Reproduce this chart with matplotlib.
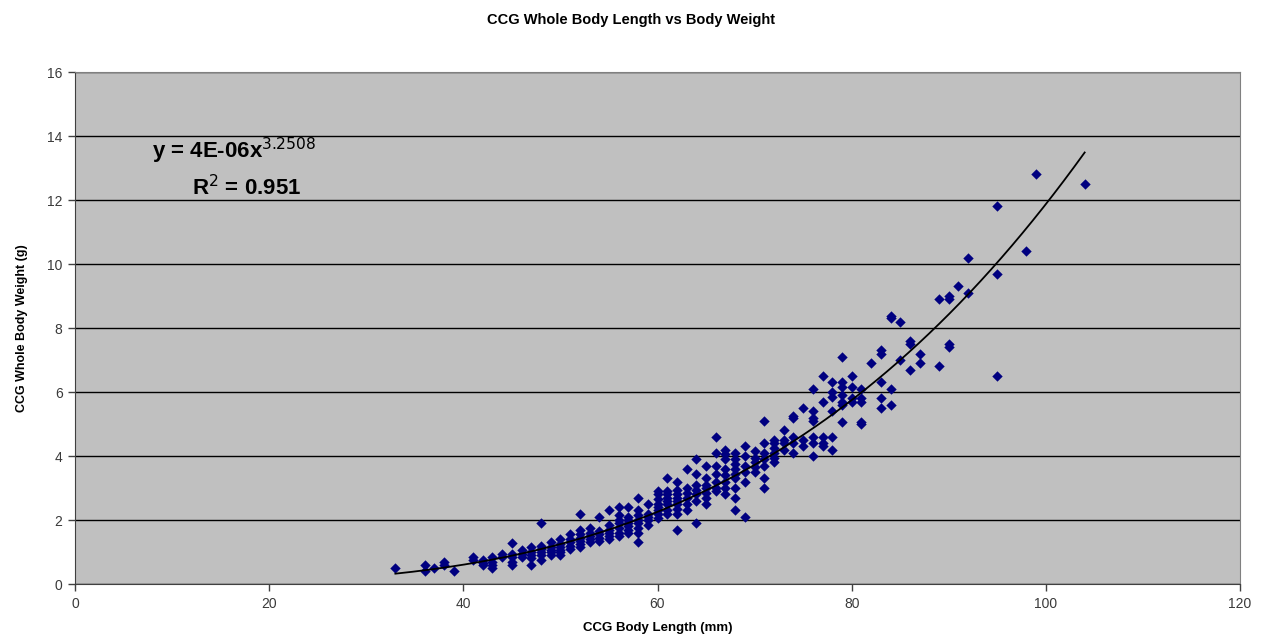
import numpy as np
import matplotlib
matplotlib.use("Agg")
import matplotlib.pyplot as plt

plt.rcParams['font.family'] = ['Liberation Sans', 'DejaVu Sans']

# Body weight (g) observed for each body length (mm)
weights_by_length = {
    33: [0.5],
    36: [0.6, 0.4],
    37: [0.5],
    38: [0.7, 0.6],
    39: [0.4],
    41: [0.85, 0.75],
    42: [0.75, 0.65, 0.6],
    43: [0.85, 0.7, 0.6, 0.5],
    44: [0.95, 0.85],
    45: [1.27, 0.95, 0.85, 0.7, 0.6],
    46: [1.06, 0.95, 0.85],
    47: [1.15, 1.0, 0.9, 0.8, 0.6],
    48: [1.9, 1.2, 1.1, 1.0, 0.9, 0.75],
    49: [1.3, 1.15, 1.05, 1.0, 0.9],
    50: [1.4, 1.25, 1.15, 1.05, 1.0, 0.9],
    51: [1.55, 1.4, 1.3, 1.2, 1.1],
    52: [2.2, 1.7, 1.55, 1.45, 1.35, 1.25, 1.15],
    53: [1.75, 1.6, 1.5, 1.4, 1.3],
    54: [2.1, 1.65, 1.55, 1.45, 1.35],
    55: [2.3, 1.85, 1.7, 1.6, 1.5, 1.4],
    56: [2.4, 2.15, 2.0, 1.9, 1.75, 1.6, 1.5],
    57: [2.4, 2.1, 2.0, 1.9, 1.8, 1.7, 1.6],
    58: [2.7, 2.3, 2.15, 2.0, 1.9, 1.75, 1.6, 1.3],
    59: [2.5, 2.2, 2.1, 2.0, 1.85],
    60: [2.9, 2.8, 2.65, 2.5, 2.4, 2.3, 2.2, 2.05],
    61: [3.3, 2.9, 2.8, 2.7, 2.6, 2.5, 2.3, 2.2],
    62: [3.2, 2.95, 2.8, 2.7, 2.6, 2.5, 2.35, 2.2, 1.7],
    63: [3.6, 3.0, 2.85, 2.7, 2.5, 2.3],
    64: [3.9, 3.45, 3.1, 2.95, 2.8, 2.6, 1.9],
    65: [3.7, 3.3, 3.1, 3.0, 2.85, 2.7, 2.5],
    66: [4.6, 4.1, 3.7, 3.45, 3.2, 3.0, 2.9],
    67: [4.2, 4.05, 3.9, 3.6, 3.4, 3.2, 3.0, 2.8],
    68: [4.1, 3.9, 3.75, 3.6, 3.45, 3.3, 3.0, 2.7, 2.3],
    69: [4.3, 4.0, 3.7, 3.5, 3.2, 2.1],
    70: [4.15, 3.95, 3.8, 3.65, 3.5],
    71: [5.1, 4.4, 4.1, 3.9, 3.7, 3.3, 3.0],
    72: [4.5, 4.4, 4.25, 4.1, 3.95, 3.8],
    73: [4.8, 4.5, 4.4, 4.2],
    74: [5.25, 5.2, 4.6, 4.4, 4.1],
    75: [5.5, 4.5, 4.3],
    76: [6.1, 5.4, 5.2, 5.1, 4.6, 4.4, 4.0],
    77: [6.5, 5.7, 4.6, 4.4, 4.3],
    78: [6.3, 6.0, 5.85, 5.4, 4.6, 4.2],
    79: [7.1, 6.3, 6.15, 5.9, 5.7, 5.6, 5.07],
    80: [6.5, 6.15, 5.8, 5.7],
    81: [6.1, 5.8, 5.7, 5.07, 5.0],
    82: [6.9],
    83: [7.3, 7.2, 6.3, 5.8, 5.5],
    84: [8.38, 8.3, 6.1, 5.6],
    85: [8.2, 7.0],
    86: [7.6, 7.5, 6.7],
    87: [7.2, 6.9],
    89: [8.9, 6.8],
    90: [9.0, 8.9, 7.5, 7.4],
    91: [9.3],
    92: [10.2, 9.1],
    95: [11.8, 9.7, 6.5],
    98: [10.4],
    99: [12.8],
    104: [12.5],
}

length_mm = [L for L, ws in weights_by_length.items() for _ in ws]
weight_g = [w for ws in weights_by_length.values() for w in ws]

# Power trendline parameters (y = a * x^b)
trend_a = 3.74e-6
trend_b = 3.2508

x_ticks = [0, 20, 40, 60, 80, 100, 120]
y_ticks = [0, 2, 4, 6, 8, 10, 12, 14, 16]

fig = plt.figure(figsize=(12.62, 6.43), dpi=100)
ax = fig.add_axes([75/1262, 1 - 584/643, (1240 - 75)/1262, (584 - 72)/643])
ax.set_facecolor('#C0C0C0')

ax.set_xlim(0, 120)
ax.set_ylim(0, 16)
ax.set_xticks(x_ticks)
ax.set_yticks(y_ticks)
ax.yaxis.grid(True, color='black', linewidth=1.0)
ax.set_axisbelow(True)

ax.scatter(length_mm, weight_g, marker='D', s=28, color='#000080', linewidths=0, zorder=3)

xs = np.linspace(min(length_mm), max(length_mm), 200)
ax.plot(xs, trend_a * xs ** trend_b, color='black', linewidth=1.3, zorder=4)

for side in ['top', 'right']:
    ax.spines[side].set_color('#808080')
for side in ['left', 'bottom']:
    ax.spines[side].set_color('#404040')
ax.tick_params(axis='both', direction='out', length=5, width=1, color='#404040',
               labelsize=10, labelcolor='#3a3a3a', pad=4)

ax.text(0.066, 0.845, 'y = 4E-06x$^{3.2508}$', transform=ax.transAxes,
        fontsize=16, fontweight='bold', ha='left', va='center')
ax.text(0.1, 0.775, 'R$^2$ = 0.951', transform=ax.transAxes,
        fontsize=16, fontweight='bold', ha='left', va='center')

fig.text(0.5, 1 - 20/643, 'CCG Whole Body Length vs Body Weight', ha='center', va='center',
         fontsize=10.5, fontweight='bold')
ax.set_xlabel('CCG Body Length (mm)', fontsize=9.5, fontweight='bold', labelpad=8)
ax.set_ylabel('CCG Whole Body Weight (g)', fontsize=9, fontweight='bold', labelpad=14)

fig.savefig('out.png', dpi=100)
